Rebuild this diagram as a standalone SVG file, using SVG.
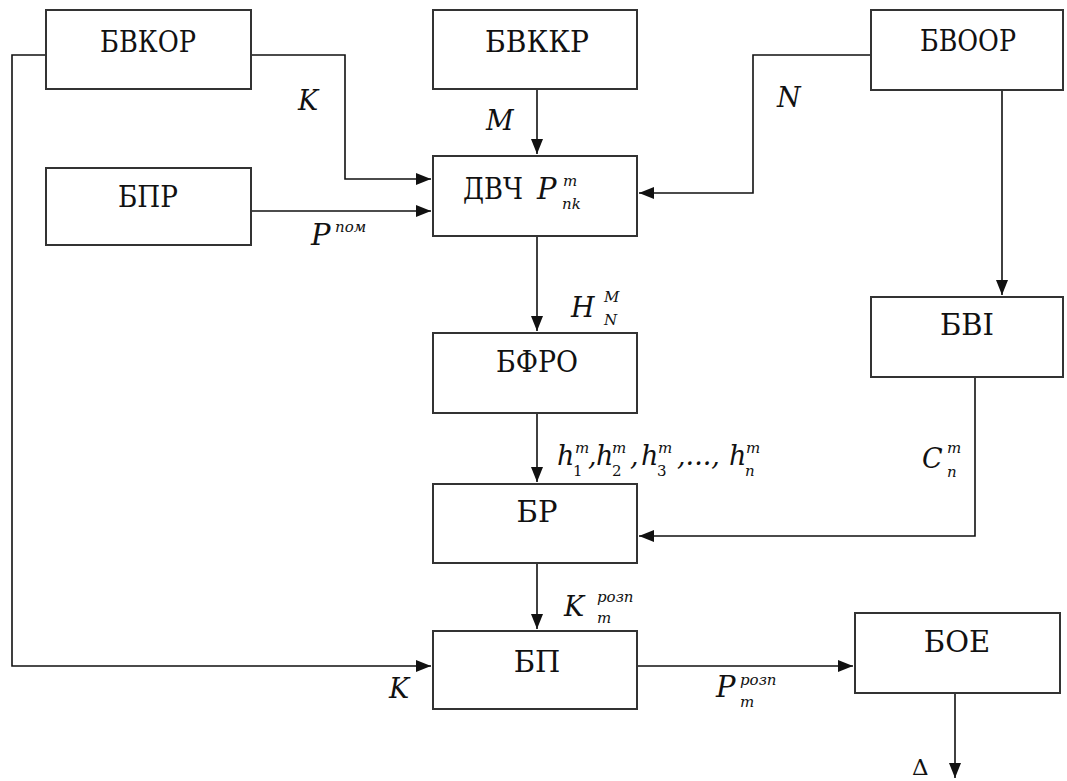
<svg xmlns="http://www.w3.org/2000/svg" width="1067" height="781" viewBox="0 0 1067 781">
<style>
.box{fill:#fff;stroke:#333;stroke-width:2}
.bt{font-size:29px;fill:#111;text-anchor:middle}
.ln{fill:none;stroke:#111;stroke-width:1.6}
.it{font-style:italic;fill:#111}
.L{font-size:27px}
.s{font-size:15px}
.up{fill:#111}
</style>
<defs>
<marker id="ah" markerUnits="userSpaceOnUse" markerWidth="16" markerHeight="14" refX="15" refY="6" orient="auto">
<path d="M0,0 L15,6 L0,12 z" fill="#111"/>
</marker>
</defs>
<rect width="1067" height="781" fill="#fff"/>
<g id="connectors">
<path class="ln" d="M251,55 H345 V179 H431" marker-end="url(#ah)"/>
<path class="ln" d="M46,55 H12 V666 H431" marker-end="url(#ah)"/>
<path class="ln" d="M537,89 V154" marker-end="url(#ah)"/>
<path class="ln" d="M871,55 H753 V193 H639" marker-end="url(#ah)"/>
<path class="ln" d="M251,211 H431" marker-end="url(#ah)"/>
<path class="ln" d="M1002,90 V295" marker-end="url(#ah)"/>
<path class="ln" d="M537,236 V331" marker-end="url(#ah)"/>
<path class="ln" d="M537,413 V482" marker-end="url(#ah)"/>
<path class="ln" d="M975,377 V536 H639" marker-end="url(#ah)"/>
<path class="ln" d="M537,563 V629" marker-end="url(#ah)"/>
<path class="ln" d="M637,666 H853" marker-end="url(#ah)"/>
<path class="ln" d="M955,693 V778" marker-end="url(#ah)"/>
</g>
<g font-family="DejaVu Serif, Liberation Serif, serif">
<g id="bvkor"><rect class="box" x="46" y="10" width="205" height="79"/><text class="bt" x="148" y="52" textLength="96" lengthAdjust="spacingAndGlyphs">БВКОР</text></g>
<g id="bvkkr"><rect class="box" x="433" y="10" width="204" height="79"/><text class="bt" x="537" y="52" textLength="104" lengthAdjust="spacingAndGlyphs">БВККР</text></g>
<g id="bvoor"><rect class="box" x="871" y="10" width="192" height="80"/><text class="bt" x="968" y="51" textLength="96" lengthAdjust="spacingAndGlyphs">БВООР</text></g>
<g id="bpr"><rect class="box" x="46" y="168" width="205" height="77"/><text class="bt" x="148" y="207" textLength="60" lengthAdjust="spacingAndGlyphs">БПР</text></g>
<g id="dvch"><rect class="box" x="433" y="156" width="204" height="80"/>
<text class="up" x="463" y="199" style="font-size:29px" textLength="60" lengthAdjust="spacingAndGlyphs">ДВЧ</text>
<text class="it" x="537" y="199" style="font-size:29px">P</text>
<text class="it s" x="563" y="186">m</text>
<text class="it s" x="562" y="209">nk</text></g>
<g id="bfro"><rect class="box" x="433" y="333" width="204" height="80"/><text class="bt" x="537" y="372" textLength="82" lengthAdjust="spacingAndGlyphs">БФРО</text></g>
<g id="bvi"><rect class="box" x="871" y="297" width="192" height="80"/><text class="bt" x="967" y="335">БВІ</text></g>
<g id="br"><rect class="box" x="433" y="484" width="204" height="79"/><text class="bt" x="537" y="522">БР</text></g>
<g id="bp"><rect class="box" x="433" y="631" width="204" height="78"/><text class="bt" x="537" y="672">БП</text></g>
<g id="boe"><rect class="box" x="855" y="613" width="205" height="80"/><text class="bt" x="957" y="652">БОЕ</text></g>
<g id="labels">
<text class="it L" x="298" y="110">K</text>
<text class="it L" x="486" y="130">M</text>
<text class="it L" x="777" y="107">N</text>
<text class="it" x="311" y="245" style="font-size:29px">P</text>
<text class="it s" x="335" y="232">пом</text>
<text class="it L" x="571" y="317">H</text>
<text class="it s" x="604" y="302">M</text>
<text class="it s" x="604" y="325">N</text>
<text class="it L" x="557" y="465">h</text><text class="it s" x="575" y="453">m</text><text class="up s" x="573" y="476">1</text>
<text class="it L" x="588" y="465">,</text>
<text class="it L" x="596" y="465">h</text><text class="it s" x="612" y="453">m</text><text class="up s" x="612" y="476">2</text>
<text class="it L" x="630" y="465">,</text>
<text class="it L" x="641" y="465">h</text><text class="it s" x="658" y="453">m</text><text class="up s" x="657" y="476">3</text>
<text class="it L" x="677" y="465">,...,</text>
<text class="it L" x="729" y="465">h</text><text class="it s" x="746" y="453">m</text><text class="it s" x="745" y="476">n</text>
<text class="it L" x="922" y="468">C</text>
<text class="it s" x="947" y="453">m</text>
<text class="it s" x="947" y="477">n</text>
<text class="it L" x="564" y="616">K</text>
<text class="it s" x="597" y="602">розп</text>
<text class="it s" x="597" y="623">m</text>
<text class="it" x="716" y="697" style="font-size:29px">P</text>
<text class="it s" x="740" y="685">розп</text>
<text class="it s" x="740" y="707">m</text>
<text class="it L" x="389" y="698">K</text>
<text class="up" x="912" y="775" style="font-size:23px">Δ</text>
</g>
</g>
</svg>
